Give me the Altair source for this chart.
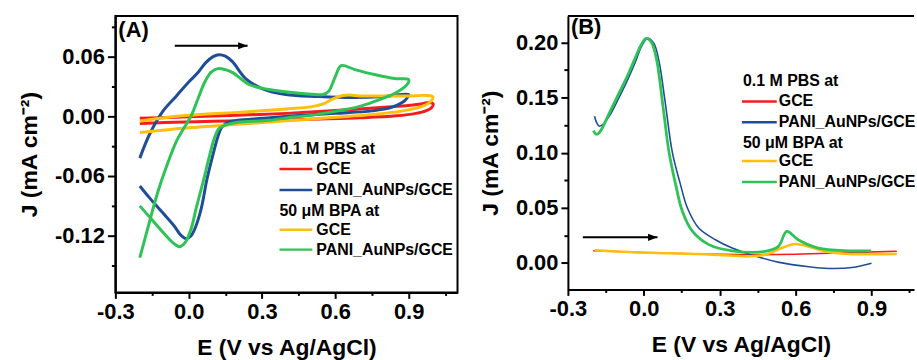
import altair as alt
import pandas as pd

FONT = "Liberation Sans"

# ---------------- Panel A : cyclic voltammograms ----------------
a_pbs_gce_E = [-0.2, 0.0, 0.2, 0.4, 0.6, 0.8, 0.9, 0.95, 0.985, 1.0, 0.995, 0.97, 0.93, 0.85, 0.7, 0.5, 0.3, 0.1, -0.1, -0.2]
a_pbs_gce_J = [-0.002, -0.0005, 0.001, 0.003, 0.0058, 0.0092, 0.011, 0.0125, 0.014, 0.0125, 0.009, 0.0055, 0.003, 0.0005, -0.0015, -0.003, -0.004, -0.005, -0.0062, -0.0072]

a_pbs_pani_E = [-0.2, -0.16, -0.106, -0.052, 0.002, 0.038, 0.07, 0.1, 0.124, 0.15, 0.179, 0.233, 0.3, 0.396, 0.532, 0.668, 0.803, 0.9,
                0.895, 0.88, 0.83, 0.75, 0.6, 0.42, 0.3, 0.2, 0.16, 0.135, 0.12, 0.1, 0.075, 0.052, 0.03, 0.01, -0.01, -0.03, -0.06, -0.106, -0.16, -0.2]
a_pbs_pani_J = [-0.042, -0.018, 0.005, 0.02, 0.035, 0.044, 0.054, 0.06, 0.062, 0.0605, 0.055, 0.038, 0.028, 0.022, 0.02, 0.019, 0.02, 0.022,
                0.019, 0.015, 0.009, 0.0055, 0.003, 0.0003, -0.002, -0.004, -0.006, -0.011, -0.02, -0.038, -0.063, -0.092, -0.11, -0.12, -0.123, -0.12, -0.11, -0.097, -0.082, -0.07]

a_bpa_gce_E = [-0.2, -0.1, 0.0, 0.2, 0.4, 0.5, 0.55, 0.59, 0.63, 0.66, 0.7, 0.8, 0.9, 0.97, 1.0,
               0.99, 0.96, 0.9, 0.8, 0.6, 0.4, 0.2, 0.0, -0.2]
a_bpa_gce_J = [-0.005, -0.0015, 0.001, 0.004, 0.0075, 0.0095, 0.0125, 0.0175, 0.021, 0.0215, 0.0205, 0.0205, 0.0205, 0.021, 0.0195,
               0.015, 0.0105, 0.0065, 0.003, -0.001, -0.0045, -0.008, -0.0115, -0.0163]

a_bpa_pani_E = [-0.2, -0.18, -0.155, -0.125, -0.09, -0.05, -0.02, 0.011, 0.04, 0.065, 0.09, 0.119, 0.15, 0.18, 0.247, 0.328, 0.464, 0.55, 0.572, 0.6, 0.624, 0.68, 0.76, 0.843, 0.9,
                0.897, 0.85, 0.76, 0.7, 0.6, 0.5, 0.42, 0.33, 0.2, 0.16, 0.125, 0.105, 0.085, 0.06, 0.031, 0.01, -0.015, -0.037, -0.06, -0.1, -0.15, -0.2]
a_bpa_pani_J = [-0.142, -0.124, -0.101, -0.075, -0.05, -0.025, -0.012, 0.001, 0.019, 0.034, 0.044, 0.048, 0.047, 0.044, 0.032, 0.027, 0.023, 0.022, 0.025, 0.04, 0.051, 0.047, 0.042, 0.038, 0.037,
                0.033, 0.024, 0.015, 0.01, 0.005, 0.001, -0.001, -0.004, -0.006, -0.008, -0.012, -0.022, -0.04, -0.065, -0.092, -0.113, -0.127, -0.131, -0.128, -0.118, -0.104, -0.09]

arrow_a_E = [-0.057, 0.241]
arrow_a_J = [0.071]

# ---------------- Panel B : differential pulse voltammograms ----------------
b_pbs_gce_E = [-0.2, 0.0, 0.2, 0.4, 0.6, 0.8, 1.0]
b_pbs_gce_J = [0.011, 0.0095, 0.0082, 0.0075, 0.0079, 0.0092, 0.0106]

b_pbs_pani_E = [-0.195, -0.186, -0.176, -0.16, -0.134, -0.1, -0.06, -0.03, -0.01, 0.016, 0.04, 0.06, 0.085, 0.113, 0.145, 0.172, 0.217, 0.283, 0.349, 0.43, 0.535, 0.652, 0.731, 0.823, 0.9]
b_pbs_pani_J = [0.133, 0.127, 0.124, 0.126, 0.134, 0.149, 0.168, 0.184, 0.196, 0.2037, 0.199, 0.183, 0.145, 0.1, 0.071, 0.05, 0.0316, 0.021, 0.0135, 0.007, 0.0005, -0.0035, -0.005, -0.0042, -0.0003]

b_bpa_gce_E = [-0.195, -0.1, -0.044, 0.1, 0.217, 0.3, 0.414, 0.48, 0.545, 0.597, 0.65, 0.715, 0.807, 0.9, 1.0]
b_bpa_gce_J = [0.0115, 0.0104, 0.0097, 0.0088, 0.0081, 0.0072, 0.006, 0.0074, 0.0135, 0.0172, 0.015, 0.0106, 0.0081, 0.008, 0.0081]

b_bpa_pani_E = [-0.199, -0.19, -0.182, -0.17, -0.134, -0.1, -0.06, -0.03, -0.01, 0.008, 0.03, 0.05, 0.078, 0.1, 0.126, 0.152, 0.191, 0.257, 0.349, 0.48, 0.532, 0.565, 0.61, 0.689, 0.807, 0.899]
b_bpa_pani_J = [0.12, 0.117, 0.117, 0.12, 0.137, 0.153, 0.172, 0.188, 0.198, 0.2035, 0.2, 0.185, 0.138, 0.1, 0.071, 0.047, 0.029, 0.0166, 0.011, 0.0105, 0.015, 0.0286, 0.021, 0.0135, 0.011, 0.011]

arrow_b_E = [-0.241, 0.054]
arrow_b_J = [0.0232]

# ---------------- text ----------------
panel_labels = ["(A)", "(B)"]
legend_headers = ["0.1 M PBS at", "50 \u03bcM BPA at"]
legend_items = ["GCE", "PANI_AuNPs/GCE", "GCE", "PANI_AuNPs/GCE"]
colors = ["#f41c1c", "#1f4e97", "#ffbf0f", "#2fc257"]
x_title = "E (V vs Ag/AgCl)"
y_title = "J (mA cm\u207b\u00b2)"

xA_ticks = [-0.3, -0.15, 0.0, 0.15, 0.3, 0.45, 0.6, 0.75, 0.9, 1.05]
yA_ticks = [-0.15, -0.12, -0.09, -0.06, -0.03, 0.0, 0.03, 0.06, 0.09]
xB_ticks = [-0.3, -0.15, 0.0, 0.15, 0.3, 0.45, 0.6, 0.75, 0.9, 1.05]
yB_ticks = [0.0, 0.025, 0.05, 0.075, 0.1, 0.125, 0.15, 0.175, 0.2]

WA, HA = 344, 278
WB, HB = 348, 275


def frame(E, J):
    return pd.DataFrame({"E": E, "J": J, "i": list(range(len(E)))})


def make_axis(values, fmt, test, major, minor, title, tpad):
    return alt.Axis(
        values=values, format=fmt,
        labelExpr=f"({test}) ? replace(datum.label, '\u2212', '-') : ''",
        tickSize={"condition": {"test": test, "value": major}, "value": minor},
        title=title, titlePadding=tpad, grid=False,
        labelOverlap=False, labelFlush=False, labelPadding=3,
        labelFont=FONT, labelFontSize=22, labelFontWeight="bold", labelColor="black",
        titleFont=FONT, titleFontSize=23, titleFontWeight="bold", titleColor="black",
        domainColor="black", domainWidth=2, tickColor="black", tickWidth=2,
    )


def panel(series, xdom, ydom, xaxis, yaxis, W, H, widths, arrowE, arrowJ,
          label, label_y, leg_x, leg_line, leg_text_x, leg_ys, top_rule):
    xs = alt.Scale(domain=xdom, nice=False, zero=False)
    ys = alt.Scale(domain=ydom, nice=False, zero=False)

    def X(f):
        return alt.X(f"{f}:Q", scale=xs, axis=xaxis)

    def Y(f):
        return alt.Y(f"{f}:Q", scale=ys, axis=yaxis)

    layers = []
    for (E, J), col, w in zip(series, colors, widths):
        layers.append(
            alt.Chart(frame(E, J)).mark_line(color=col, strokeWidth=w, interpolate="catmull-rom", clip=True)
            .encode(x=X("E"), y=Y("J"), order="i:Q")
        )
    adf = pd.DataFrame({"E0": [arrowE[0]], "E1": [arrowE[1]], "J": arrowJ})
    layers.append(alt.Chart(adf).mark_rule(color="black", strokeWidth=2)
                  .encode(x=X("E0"), x2="E1:Q", y=Y("J")))
    layers.append(alt.Chart(adf).mark_point(shape="M-2,-0.75L0,0L-2,0.75Z", size=90, filled=True,
                                            color="black", opacity=1, strokeWidth=0)
                  .encode(x=X("E1"), y=Y("J")))
    # panel label
    layers.append(alt.Chart(pd.DataFrame({"t": [label]})).mark_text(
        align="left", baseline="alphabetic", font=FONT, fontWeight="bold", fontSize=22, color="black")
        .encode(text="t:N", x=alt.value(3), y=alt.value(label_y)))
    # legend
    rows = [(legend_headers[0], None), (legend_items[0], colors[0]), (legend_items[1], colors[1]),
            (legend_headers[1], None), (legend_items[2], colors[2]), (legend_items[3], colors[3])]
    for (txt, col), yy in zip(rows, leg_ys):
        tx = leg_x if col is None else leg_text_x
        layers.append(alt.Chart(pd.DataFrame({"t": [txt]})).mark_text(
            align="left", baseline="middle", font=FONT, fontWeight="bold", fontSize=16, color="black")
            .encode(text="t:N", x=alt.value(tx), y=alt.value(yy)))
        if col is not None:
            layers.append(alt.Chart(pd.DataFrame({"t": [txt]})).mark_rule(color=col, strokeWidth=2.5)
                          .encode(x=alt.value(leg_line[0]), x2=alt.value(leg_line[1]), y=alt.value(yy)))
    if top_rule:
        layers.append(alt.Chart(pd.DataFrame({"t": [0]})).mark_rule(color="black", strokeWidth=2)
                      .encode(x=alt.value(0), x2=alt.value(W), y=alt.value(0)))
    return alt.layer(*layers).properties(width=W, height=H)


xtest = "round(datum.value*100) % 30 == 0"
axA_x = make_axis(xA_ticks, ".1f", xtest, 6, 3, x_title, 14)
axA_y = make_axis(yA_ticks, ".2f", "round(datum.value*100) % 6 == 0", 8, 4, y_title, 13)
axB_x = make_axis(xB_ticks, ".1f", xtest, 6, 3, x_title, 14)
axB_y = make_axis(yB_ticks, ".2f", "round(datum.value*1000) % 50 == 0", 7, 4, y_title, 13)

chartA = panel(
    [(a_pbs_gce_E, a_pbs_gce_J), (a_pbs_pani_E, a_pbs_pani_J), (a_bpa_gce_E, a_bpa_gce_J), (a_bpa_pani_E, a_bpa_pani_J)],
    [-0.3, 1.1], [-0.177, 0.101], axA_x, axA_y, WA, HA, [3, 3, 3, 3],
    arrow_a_E, arrow_a_J, panel_labels[0], 21, 165, (165, 198), 202, [134, 154, 175, 196, 215, 235], False)
chartA = chartA.properties(view=alt.ViewBackground(stroke="black", strokeWidth=2))

chartB = panel(
    [(b_pbs_gce_E, b_pbs_gce_J), (b_pbs_pani_E, b_pbs_pani_J), (b_bpa_gce_E, b_bpa_gce_J), (b_bpa_pani_E, b_bpa_pani_J)],
    [-0.3, -0.3 + WB / 254.4], [-0.024, 0.224], axB_x, axB_y, WB, HB, [1.6, 1.6, 2.6, 2.8],
    arrow_b_E, arrow_b_J, panel_labels[1], 18, 176, (175, 210), 212, [65, 86, 107, 128, 146, 167], True)
chartB = chartB.properties(view=alt.ViewBackground(stroke="transparent"))

chart = alt.hconcat(chartA, chartB, spacing=20).properties(
    padding={"left": 17, "top": 13, "right": 0, "bottom": 0},
    background="white",
)

chart.save("out.html", embed_options={"renderer": "svg", "actions": False})
